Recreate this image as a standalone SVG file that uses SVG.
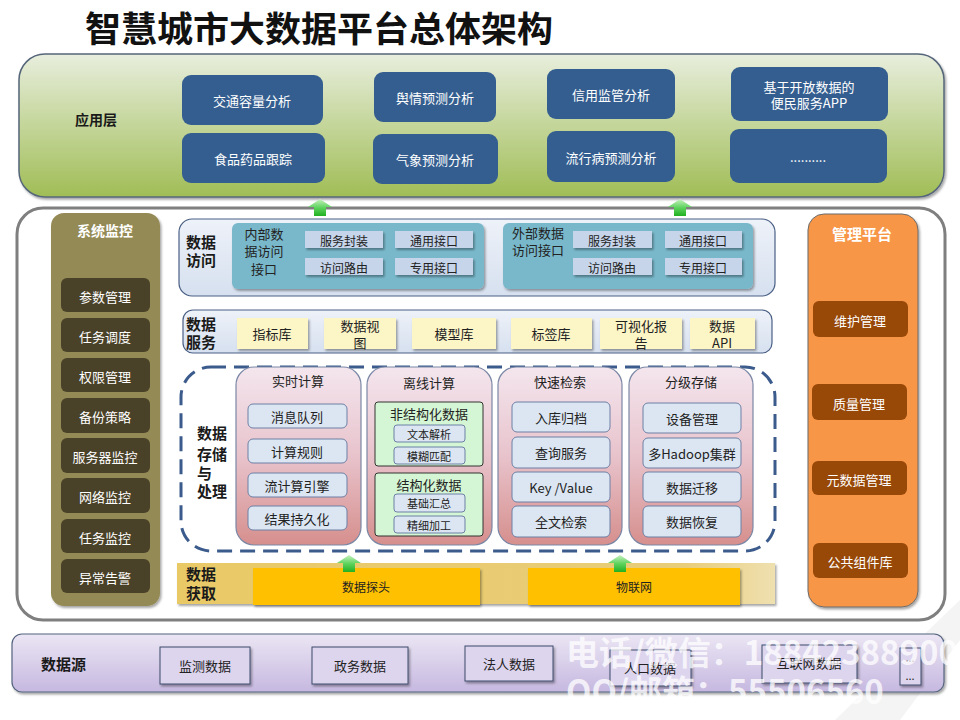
<svg xmlns="http://www.w3.org/2000/svg" width="960" height="720" viewBox="0 0 960 720">
<defs>
<linearGradient id="gApp" x1="0" y1="0" x2="0" y2="1"><stop offset="0" stop-color="#e8eedd"/><stop offset="1" stop-color="#a0bd56"/></linearGradient>
<linearGradient id="gPink" x1="0" y1="0" x2="0" y2="1"><stop offset="0" stop-color="#f4e6ee"/><stop offset="0.5" stop-color="#e8c3cc"/><stop offset="1" stop-color="#d68f8d"/></linearGradient>
<linearGradient id="gSrc" x1="0" y1="0" x2="0" y2="1"><stop offset="0" stop-color="#ebe6f4"/><stop offset="1" stop-color="#c6b8e0"/></linearGradient>
<linearGradient id="gBand" x1="0" y1="0" x2="1" y2="0"><stop offset="0" stop-color="#e9c966"/><stop offset="0.85" stop-color="#e8cd7a"/><stop offset="1" stop-color="#efe0b0"/></linearGradient>
<linearGradient id="gArrow" x1="0" y1="0" x2="0" y2="1"><stop offset="0" stop-color="#c8f0c0"/><stop offset="0.5" stop-color="#5fd45f"/><stop offset="1" stop-color="#21b021"/></linearGradient>
<linearGradient id="gAcc" x1="0" y1="0" x2="0" y2="1"><stop offset="0" stop-color="#eef2f9"/><stop offset="1" stop-color="#d6e0ef"/></linearGradient>
<filter id="sh" x="-10%" y="-10%" width="125%" height="135%"><feDropShadow dx="1.5" dy="2" stdDeviation="1.2" flood-color="#000" flood-opacity="0.35"/></filter>
<path id="arrow" d="M0,0 L12,8 L6,8 L6,17 L-6,17 L-6,8 L-12,8 Z" fill="url(#gArrow)"/>
</defs>
<style>
text{font-family:"Microsoft YaHei","Noto Sans CJK SC","Noto Sans",sans-serif;text-anchor:middle;dominant-baseline:central}
.t{font-size:35px;font-weight:bold;fill:#111;text-anchor:start}
.lab{font-size:15px;font-weight:bold;fill:#1a1a1a}
.labl{font-size:15px;font-weight:bold;fill:#1a1a1a;text-anchor:start}
.blue{fill:#345e90}
.wt{font-size:13px;fill:#fff}
.olv{fill:#4a4228}
.org{fill:#984807}
.sub{fill:#c6d5ea;filter:url(#sh)}
.s12{font-size:12px;fill:#222}
.s13{font-size:13px;fill:#222}
.s11{font-size:11px;fill:#222}
.yel{fill:#fcf5c6;filter:url(#sh)}
.col{fill:url(#gPink);stroke:#7a87a5;stroke-width:1.2}
.item{fill:#dce6f2;stroke:#6d80a5;stroke-width:1}
.grn{fill:#d4f6d4;stroke:#333;stroke-width:1}
.src{fill:#ddd5ee;stroke:#3d4a6a;stroke-width:1;filter:url(#sh)}
.wm{font-size:33px;font-weight:bold;fill:#fff;fill-opacity:0.75;text-anchor:start}
</style>
<rect width="960" height="720" fill="#fff"/>
<polygon points="835,720 900,720 960,640 960,600" fill="#f4f4f4"/>
<text class="t" x="85" y="26" textLength="468" lengthAdjust="spacingAndGlyphs">智慧城市大数据平台总体架构</text>

<g id="app-layer">
<rect x="19" y="54" width="925" height="143" rx="26" fill="url(#gApp)" stroke="#56667a" stroke-width="1.5" filter="url(#sh)"/>
<text class="lab" x="96" y="119" style="font-size:14px">应用层</text>
<rect class="blue" x="182" y="75" width="141" height="50" rx="9"/><text class="wt" x="252" y="100">交通容量分析</text>
<rect class="blue" x="182" y="133" width="143" height="50" rx="9"/><text class="wt" x="253" y="158">食品药品跟踪</text>
<rect class="blue" x="374" y="72" width="122" height="50" rx="9"/><text class="wt" x="435" y="97">舆情预测分析</text>
<rect class="blue" x="373" y="134" width="125" height="50" rx="9"/><text class="wt" x="435" y="159">气象预测分析</text>
<rect class="blue" x="547" y="69" width="128" height="50" rx="9"/><text class="wt" x="611" y="94">信用监管分析</text>
<rect class="blue" x="547" y="131" width="128" height="51" rx="9"/><text class="wt" x="611" y="157">流行病预测分析</text>
<rect class="blue" x="731" y="67" width="157" height="54" rx="9"/><text class="wt" x="809" y="86">基于开放数据的</text><text class="wt" x="809" y="102">便民服务APP</text>
<rect class="blue" x="730" y="129" width="157" height="54" rx="9"/><text class="wt" x="808" y="156">..........</text>
</g>

<g id="main-frame">
<rect x="17" y="208" width="928" height="412" rx="26" fill="#fff" stroke="#7f7f7f" stroke-width="3"/>
</g>

<g id="system-monitor">
<rect x="51" y="213" width="109" height="393" rx="13" fill="#948a54" filter="url(#sh)"/>
<text x="105" y="230" style="font-size:14px;font-weight:bold;fill:#fff">系统监控</text>
<rect class="olv" x="61" y="278" width="89" height="34" rx="6"/><text class="wt" x="105" y="296">参数管理</text>
<rect class="olv" x="61" y="318" width="89" height="34" rx="6"/><text class="wt" x="105" y="336">任务调度</text>
<rect class="olv" x="61" y="358" width="89" height="34" rx="6"/><text class="wt" x="105" y="376">权限管理</text>
<rect class="olv" x="61" y="398" width="89" height="35" rx="6"/><text class="wt" x="105" y="416">备份策略</text>
<rect class="olv" x="61" y="438" width="89" height="35" rx="6"/><text class="wt" x="105" y="456">服务器监控</text>
<rect class="olv" x="61" y="478" width="89" height="35" rx="6"/><text class="wt" x="105" y="496">网络监控</text>
<rect class="olv" x="61" y="519" width="89" height="34" rx="6"/><text class="wt" x="105" y="537">任务监控</text>
<rect class="olv" x="61" y="559" width="89" height="34" rx="6"/><text class="wt" x="105" y="577">异常告警</text>
</g>

<g id="mgmt-platform">
<rect x="808" y="214" width="110" height="393" rx="16" fill="#f79646" stroke="#6b6b6b" stroke-width="1" filter="url(#sh)"/>
<text x="862" y="233" style="font-size:15px;font-weight:bold;fill:#fff">管理平台</text>
<rect class="org" x="813" y="301" width="95" height="36" rx="6"/><text class="wt" x="860" y="320">维护管理</text>
<rect class="org" x="812" y="384" width="95" height="36" rx="6"/><text class="wt" x="859" y="403">质量管理</text>
<rect class="org" x="812" y="461" width="95" height="34" rx="6"/><text class="wt" x="859" y="479">元数据管理</text>
<rect class="org" x="813" y="543" width="95" height="35" rx="6"/><text class="wt" x="860" y="561">公共组件库</text>
</g>

<g id="data-access">
<rect x="179" y="219" width="596" height="77" rx="13" fill="url(#gAcc)" stroke="#4a5f85" stroke-width="1.2"/>
<text class="labl" x="186" y="241">数据</text><text class="labl" x="186" y="259">访问</text>
<rect x="232" y="223" width="252" height="66" rx="6" fill="#79b8cb" filter="url(#sh)"/>
<text class="s13" x="264" y="233">内部数</text><text class="s13" x="264" y="250">据访问</text><text class="s13" x="264" y="268">接口</text>
<rect class="sub" x="305" y="231" width="78" height="17"/><text class="s12" x="344" y="240">服务封装</text>
<rect class="sub" x="395" y="231" width="78" height="17"/><text class="s12" x="434" y="240">通用接口</text>
<rect class="sub" x="305" y="258" width="78" height="17"/><text class="s12" x="344" y="267">访问路由</text>
<rect class="sub" x="395" y="258" width="78" height="17"/><text class="s12" x="434" y="267">专用接口</text>
<rect x="503" y="223" width="250" height="66" rx="6" fill="#79b8cb" filter="url(#sh)"/>
<text class="s13" x="538" y="232">外部数据</text><text class="s13" x="538" y="249">访问接口</text>
<rect class="sub" x="573" y="231" width="79" height="17"/><text class="s12" x="612" y="240">服务封装</text>
<rect class="sub" x="665" y="231" width="77" height="17"/><text class="s12" x="703" y="240">通用接口</text>
<rect class="sub" x="573" y="258" width="79" height="17"/><text class="s12" x="612" y="267">访问路由</text>
<rect class="sub" x="665" y="258" width="77" height="17"/><text class="s12" x="703" y="267">专用接口</text>
</g>

<g id="data-service">
<rect x="183" y="310" width="589" height="43" rx="10" fill="url(#gAcc)" stroke="#4a5f85" stroke-width="1.2"/>
<text class="labl" x="186" y="323">数据</text><text class="labl" x="186" y="341">服务</text>
<rect class="yel" x="237" y="318" width="71" height="31"/><text class="s13" x="272" y="333">指标库</text>
<rect class="yel" x="324" y="318" width="72" height="31"/><text class="s13" x="360" y="325">数据视</text><text class="s13" x="360" y="342">图</text>
<rect class="yel" x="412" y="318" width="84" height="31"/><text class="s13" x="454" y="333">模型库</text>
<rect class="yel" x="511" y="318" width="81" height="31"/><text class="s13" x="551" y="333">标签库</text>
<rect class="yel" x="600" y="318" width="82" height="31"/><text class="s13" x="641" y="325">可视化报</text><text class="s13" x="641" y="342">告</text>
<rect class="yel" x="690" y="318" width="65" height="31"/><text class="s13" x="722" y="325">数据</text><text class="s13" x="722" y="342">API</text>
</g>

<g id="storage-processing">
<rect x="181" y="367" width="594" height="184" rx="30" fill="none" stroke="#3b5b8c" stroke-width="3" stroke-dasharray="15 8"/>
<text class="labl" x="197" y="432">数据</text><text class="labl" x="197" y="453">存储</text><text class="labl" x="197" y="472">与</text><text class="labl" x="197" y="490">处理</text>

<g id="realtime">
<rect class="col" x="236" y="367" width="125" height="178" rx="18"/>
<text class="s13" x="298" y="380">实时计算</text>
<rect class="item" x="248" y="404" width="99" height="24" rx="5"/><text class="s13" x="297" y="416">消息队列</text>
<rect class="item" x="248" y="439" width="99" height="24" rx="5"/><text class="s13" x="297" y="451">计算规则</text>
<rect class="item" x="248" y="473" width="99" height="24" rx="5"/><text class="s13" x="297" y="485">流计算引擎</text>
<rect class="item" x="248" y="506" width="99" height="24" rx="5"/><text class="s13" x="297" y="518">结果持久化</text>
</g>
<g id="offline">
<rect class="col" x="367" y="367" width="125" height="178" rx="18"/>
<text class="s13" x="429" y="382">离线计算</text>
<rect class="grn" x="375" y="402" width="108" height="64" rx="3"/>
<text class="s13" x="429" y="413">非结构化数据</text>
<rect class="item" x="394" y="425" width="71" height="17" rx="3"/><text class="s11" x="429" y="434">文本解析</text>
<rect class="item" x="394" y="447" width="71" height="17" rx="3"/><text class="s11" x="429" y="456">模糊匹配</text>
<rect class="grn" x="375" y="473" width="108" height="63" rx="3"/>
<text class="s13" x="429" y="484">结构化数据</text>
<rect class="item" x="394" y="494" width="71" height="18" rx="3"/><text class="s11" x="429" y="503">基础汇总</text>
<rect class="item" x="394" y="516" width="71" height="17" rx="3"/><text class="s11" x="429" y="525">精细加工</text>
</g>
<g id="fast-search">
<rect class="col" x="498" y="367" width="124" height="178" rx="18"/>
<text class="s13" x="560" y="381">快速检索</text>
<rect class="item" x="512" y="402" width="98" height="30" rx="5"/><text class="s13" x="561" y="417">入库归档</text>
<rect class="item" x="512" y="437" width="98" height="31" rx="5"/><text class="s13" x="561" y="452">查询服务</text>
<rect class="item" x="512" y="472" width="98" height="30" rx="5"/><text class="s13" x="561" y="487">Key /Value</text>
<rect class="item" x="512" y="506" width="98" height="31" rx="5"/><text class="s13" x="561" y="521">全文检索</text>
</g>
<g id="tiered-storage">
<rect class="col" x="629" y="367" width="124" height="178" rx="18"/>
<text class="s13" x="691" y="381">分级存储</text>
<rect class="item" x="643" y="403" width="98" height="30" rx="5"/><text class="s13" x="692" y="418">设备管理</text>
<rect class="item" x="643" y="438" width="98" height="30" rx="5"/><text class="s13" x="692" y="453">多Hadoop集群</text>
<rect class="item" x="643" y="472" width="98" height="30" rx="5"/><text class="s13" x="692" y="487">数据迁移</text>
<rect class="item" x="643" y="506" width="98" height="31" rx="5"/><text class="s13" x="692" y="521">数据恢复</text>
</g>
</g>

<g id="data-acquisition">
<rect x="177" y="563" width="598" height="41" fill="url(#gBand)" filter="url(#sh)"/>
<text class="labl" x="186" y="573">数据</text><text class="labl" x="186" y="592">获取</text>
<rect x="253" y="568" width="227" height="37" fill="#ffc000" filter="url(#sh)"/><text class="s12" x="366" y="586">数据探头</text>
<rect x="528" y="568" width="212" height="37" fill="#ffc000" filter="url(#sh)"/><text class="s12" x="634" y="586">物联网</text>
</g>

<g id="data-source">
<rect x="12" y="634" width="932" height="58" rx="10" fill="url(#gSrc)" stroke="#55647f" stroke-width="1.2" filter="url(#sh)"/>
<text class="labl" x="41" y="663">数据源</text>
<rect class="src" x="160" y="647" width="90" height="37"/><text class="s13" x="205" y="665">监测数据</text>
<rect class="src" x="312" y="647" width="96" height="37"/><text class="s13" x="360" y="665">政务数据</text>
<rect class="src" x="465" y="646" width="88" height="35"/><text class="s13" x="509" y="663">法人数据</text>
<rect class="src" x="610" y="650" width="81" height="36"/><text class="s13" x="650" y="667">人口数据</text>
<rect class="src" x="762" y="645" width="95" height="38"/><text class="s13" x="809" y="662">互联网数据</text>
<rect class="src" x="900" y="648" width="21" height="37"/><text class="s11" x="910" y="657">...</text><text class="s11" x="910" y="675">...</text>
</g>

<g id="connectors">
<use href="#arrow" x="320" y="199"/>
<use href="#arrow" x="680" y="199"/>
<use href="#arrow" x="349" y="555"/>
<use href="#arrow" x="620" y="555"/>
</g>

<g id="watermark">
<text class="wm" x="566" y="651">电话/微信：18842388900</text>
<text class="wm" x="566" y="690">QQ/邮箱：55506560</text>
</g>
</svg>
